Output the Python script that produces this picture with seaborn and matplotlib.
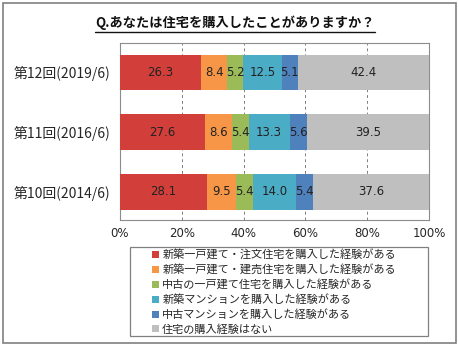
import numpy as np
import pandas as pd
import seaborn as sns
import matplotlib
matplotlib.use("Agg")
import matplotlib.pyplot as plt
from matplotlib.patches import Rectangle, Patch
from matplotlib.lines import Line2D

rounds = ["第12回(2019/6)", "第11回(2016/6)", "第10回(2014/6)"]
series = [
    "新築一戸建て・注文住宅を購入した経験がある",
    "新築一戸建て・建売住宅を購入した経験がある",
    "中古の一戸建て住宅を購入した経験がある",
    "新築マンションを購入した経験がある",
    "中古マンションを購入した経験がある",
    "住宅の購入経験はない",
]
custom_order_build = [26.3, 27.6, 28.1]
ready_built = [8.4, 8.6, 9.5]
used_house = [5.2, 5.4, 5.4]
new_condo = [12.5, 13.3, 14.0]
used_condo = [5.1, 5.6, 5.4]
never = [42.4, 39.5, 37.6]
values = [custom_order_build, ready_built, used_house, new_condo, used_condo, never]
colors = ["#D23F3A", "#F79646", "#9BBB59", "#4BACC6", "#4F81BD", "#BFBFBF"]
xticks = [0, 20, 40, 60, 80, 100]
xtick_labels = ["0%", "20%", "40%", "60%", "80%", "100%"]
title = "Q.あなたは住宅を購入したことがありますか？"

sns.set_theme(style="white")
plt.rcParams["font.family"] = ["Noto Sans CJK JP", "DejaVu Sans"]

fig = plt.figure(figsize=(4.6, 3.46), dpi=100)
ax = fig.add_axes([120 / 460, 1 - 220 / 346, 309 / 460, 177 / 346])

arr = np.array(values)
cum = np.cumsum(arr, axis=0)
# draw from the back so that each cumulative bar is partially covered
for i in range(len(series) - 1, -1, -1):
    df = pd.DataFrame({"round": rounds, "value": cum[i]})
    sns.barplot(data=df, x="value", y="round", orient="h", color=colors[i],
                width=0.59, saturation=1, ax=ax, zorder=3, linewidth=0)

for i in range(len(series)):
    for j in range(len(rounds)):
        center = cum[i][j] - arr[i][j] / 2
        ax.text(center, j, f"{arr[i][j]:.1f}", ha="center", va="center",
                fontsize=8.5, color="#222222", family="DejaVu Sans", zorder=5)

ax.set_xlim(0, 100)
ax.set_ylim(2.47, -0.49)
ax.set_xticks(xticks)
ax.set_xticklabels(xtick_labels, family="DejaVu Sans", fontsize=8.5)
ax.set_xlabel("")
ax.set_ylabel("")
ax.tick_params(axis="y", labelsize=10, length=0, pad=7)
ax.tick_params(axis="x", length=0, pad=5)
for lbl in ax.get_yticklabels():
    lbl.set_family(["Noto Sans CJK JP", "DejaVu Sans"])
ax.xaxis.grid(True, color="#7F7F7F", linestyle=(0, (3, 3)), linewidth=0.7, zorder=0)
ax.yaxis.grid(False)
ax.set_axisbelow(True)
for s in ax.spines.values():
    s.set_color("#8C8C8C")
    s.set_linewidth(0.8)

# outer frame
fig.add_artist(Rectangle((3 / 460, 3 / 346), 453 / 460, 340 / 346, transform=fig.transFigure,
                         fill=False, edgecolor="#808080", linewidth=1.2))
# legend box
fig.add_artist(Rectangle((130 / 460, 1 - 336 / 346), 298 / 460, 89 / 346, transform=fig.transFigure,
                         fill=False, edgecolor="#808080", linewidth=0.9))
handles = [Patch(facecolor=c, edgecolor="none") for c in colors]
fig.legend(handles, series, loc="upper left", bbox_to_anchor=(150 / 460, 1 - 247 / 346),
           frameon=False, fontsize=8, handlelength=0.6, handleheight=0.6,
           handletextpad=0.3, labelspacing=0.36, borderpad=0.2, borderaxespad=0)

t = fig.text(235 / 460, 1 - 23 / 346, title, ha="center", va="center",
             fontsize=9.5, fontweight="bold", color="#111111")
fig.canvas.draw()
bb = t.get_window_extent(fig.canvas.get_renderer())
inv = fig.transFigure.inverted()
(x0, y0), (x1, y1) = inv.transform([[bb.x0, bb.y0], [bb.x1, bb.y1]])
fig.add_artist(Line2D([x0, x1], [1 - 31.5 / 346] * 2, transform=fig.transFigure,
                      color="#111111", linewidth=1.0))

fig.savefig("out.png", dpi=100)
